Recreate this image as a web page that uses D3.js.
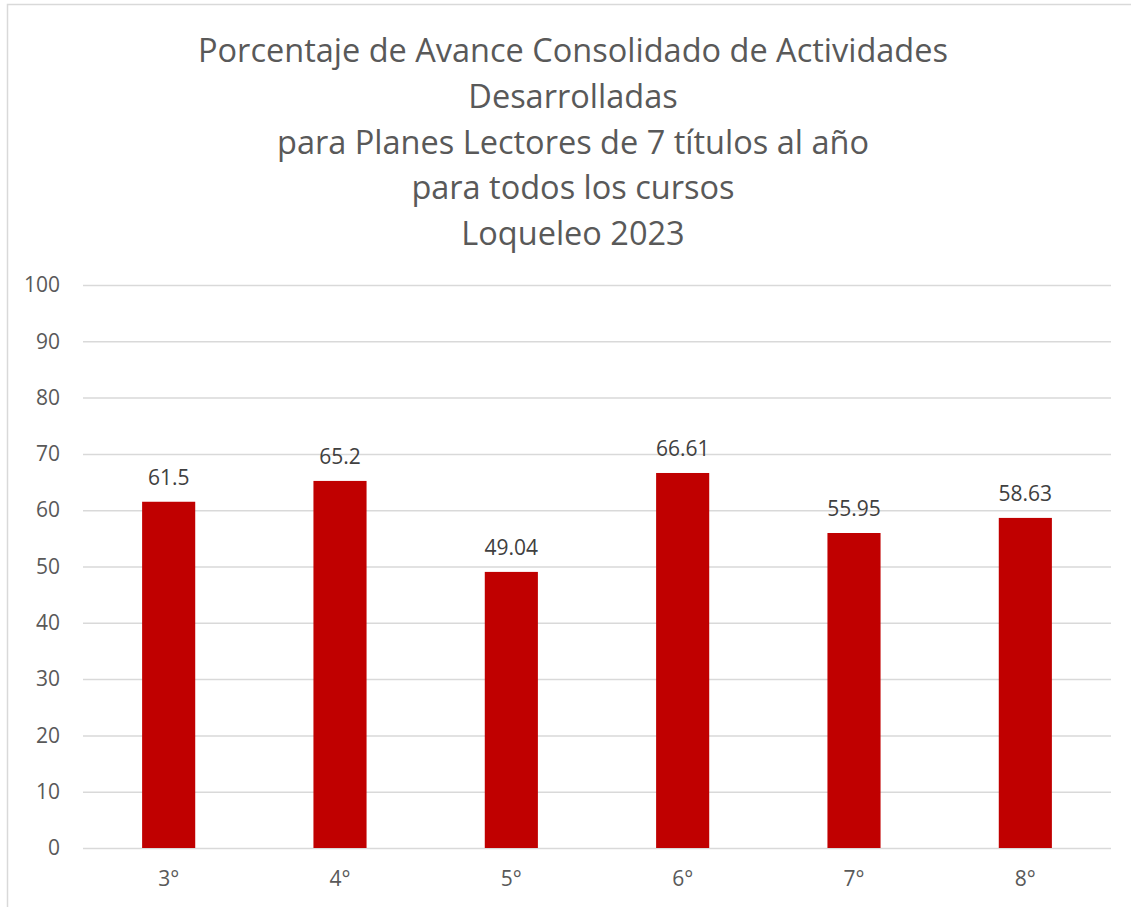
<!DOCTYPE html>
<html>
<head>
<meta charset="utf-8">
<script src="https://cdn.jsdelivr.net/npm/d3@7"></script>
<style>
  body { margin: 0; background: #fff; }
  svg text { font-family: "Open Sans", "Noto Sans", sans-serif; }
</style>
</head>
<body>
<div id="chart"></div>
<script>
const titleLines = [
  "Porcentaje de Avance Consolidado de Actividades",
  "Desarrolladas",
  "para Planes Lectores de 7 títulos al año",
  "para todos los cursos",
  "Loqueleo 2023",
];
const categories = ["3°", "4°", "5°", "6°", "7°", "8°"];
const values = [61.5, 65.2, 49.04, 66.61, 55.95, 58.63];
const yTicks = [0, 10, 20, 30, 40, 50, 60, 70, 80, 90, 100];

const width = 1131;
const height = 907;
const padding = { t: 285, b: 59, s: 83, e: 20 };

const svg = d3.select("#chart").append("svg").attr("width", width).attr("height", height);

// chart border
svg
  .append("rect")
  .attr("x", 7.5)
  .attr("y", 4.5)
  .attr("width", width + 10)
  .attr("height", height + 10)
  .attr("fill", "none")
  .attr("stroke", "#d9d9d9")
  .attr("stroke-width", 1.5);

svg
  .append("g")
  .attr("id", "title")
  .selectAll("text")
  .data(titleLines)
  .join("text")
  .attr("x", 573)
  .attr("y", (d, i) => 62 + i * 45.8)
  .attr("text-anchor", "middle")
  .attr("font-size", 32.5)
  .attr("fill", "#595959")
  .text((d) => d);

const xScale = d3
  .scaleBand()
  .domain(categories)
  .range([padding.s, width - padding.e])
  .paddingInner(0.69)
  .paddingOuter(0.345);
const yScale = d3.scaleLinear().domain([0, 100]).range([height - padding.b, padding.t]);

// gridlines + y labels
const yAxis = svg
  .append("g")
  .attr("id", "y-axis")
  .attr("transform", `translate(${padding.s}, 0)`)
  .call(
    d3
      .axisLeft(yScale)
      .tickValues(yTicks)
      .tickSize(-(width - padding.e - padding.s))
      .tickPadding(23)
  );
yAxis.select(".domain").remove();
yAxis.selectAll("line").attr("stroke", "#d9d9d9").attr("stroke-width", 1.5);
yAxis.selectAll("text").attr("font-size", 21).attr("fill", "#595959");

const xAxis = svg
  .append("g")
  .attr("id", "x-axis")
  .attr("transform", `translate(0, ${height - padding.b})`)
  .call(d3.axisBottom(xScale).tickSize(0).tickPadding(23));
xAxis.select(".domain").remove();
xAxis.selectAll("text").attr("font-size", 21).attr("fill", "#595959");

svg
  .append("g")
  .attr("id", "bars")
  .selectAll("rect")
  .data(values)
  .join("rect")
  .attr("x", (d, i) => xScale(categories[i]))
  .attr("width", xScale.bandwidth())
  .attr("y", (d) => yScale(d))
  .attr("height", (d) => yScale(0) - yScale(d))
  .attr("fill", "#c00000");

svg
  .append("g")
  .attr("id", "labels")
  .selectAll("text")
  .data(values)
  .join("text")
  .attr("x", (d, i) => xScale(categories[i]) + xScale.bandwidth() / 2)
  .attr("y", (d) => yScale(d) - 17)
  .attr("text-anchor", "middle")
  .attr("font-size", 21)
  .attr("fill", "#404040")
  .text((d) => d);
</script>
</body>
</html>
